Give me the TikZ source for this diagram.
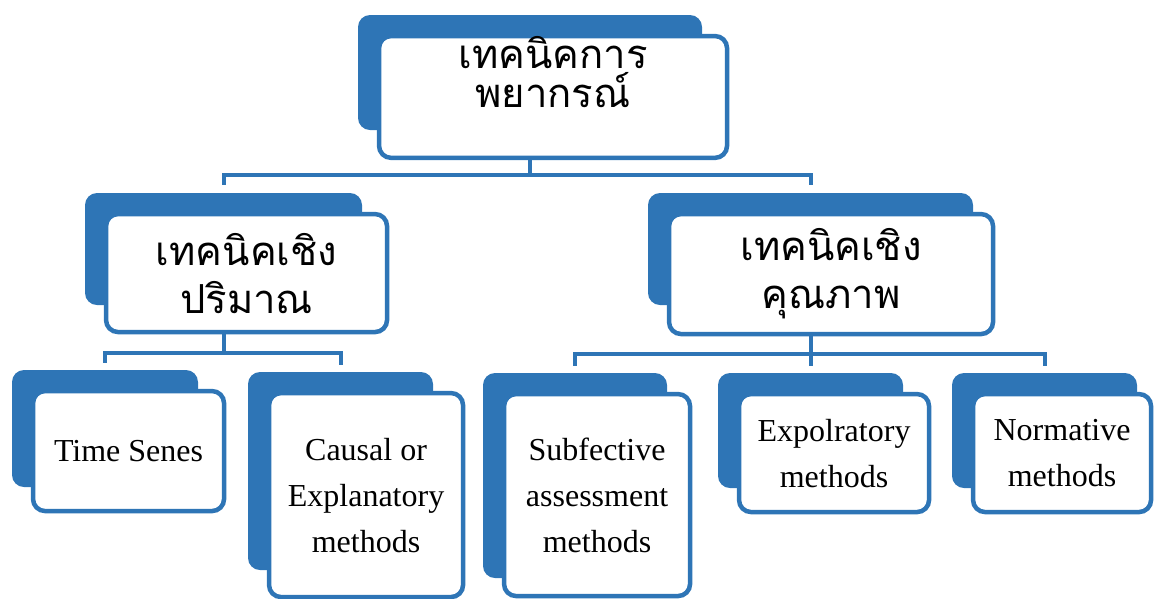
\documentclass[tikz,border=0pt]{standalone}
\usepackage{fontspec}
\setmainfont{Liberation Serif}
\newfontfamily\thaifont[Script=Thai]{Loma}
\usetikzlibrary{positioning}
\definecolor{smblue}{RGB}{46,117,182}
\tikzset{
  back/.style={fill=smblue, rounded corners=12pt, inner sep=0pt},
  card/.style={draw=smblue, line width=4.5pt, fill=white, rounded corners=12pt,
    align=center, inner sep=0pt},
  size/.style 2 args={minimum width=#1, minimum height=#2},
  thai/.style={font=\thaifont\fontsize{40}{48}\selectfont},
  eng/.style={font=\fontsize{32}{46}\selectfont},
  link/.style={draw=smblue, line width=4pt},
}

\begin{document}
\begin{tikzpicture}[x=1pt, y=-1pt]
        \useasboundingbox (0,0) rectangle (1156,598);

        \node[back, size={344pt}{115pt}] (root-bk) at (530,72.5) {};
        \node[card, size={348pt}{120pt}, thai, font=\thaifont\fontsize{40}{39}\selectfont,
          below right=19pt and 19pt of root-bk.north west] (root) {เทคนิคการ\\พยากรณ์\\\strut};

        \node[back, size={277pt}{112pt}] (quant-bk) at (223.5,249) {};
        \node[card, size={281pt}{118pt}, thai,
          below right=19pt and 19pt of quant-bk.north west] (quant) {เทคนิคเชิง\\ปริมาณ};
        \node[back, size={325pt}{112pt}] (qual-bk) at (810.5,249) {};
        \node[card, size={324pt}{120pt}, thai,
          below right=19pt and 19pt of qual-bk.north west] (qual) {เทคนิคเชิง\\คุณภาพ};

        \node[back, size={186pt}{117pt}] (ts-bk) at (105,428.5) {};
        \node[card, size={191pt}{120pt}, eng,
          below right=19pt and 19pt of ts-bk.north west] (ts) {Time Senes};
        \node[back, size={185pt}{198pt}] (causal-bk) at (340.5,471) {};
        \node[card, size={194pt}{204pt}, eng,
          below right=19pt and 19pt of causal-bk.north west] (causal) {Causal or\\Explanatory\\methods};

        \node[back, size={184pt}{205pt}] (subj-bk) at (575,475.5) {};
        \node[card, size={186pt}{202pt}, eng,
          below right=19pt and 19pt of subj-bk.north west] (subj) {Subfective\\assessment\\methods};
        \node[back, size={185pt}{115pt}] (expl-bk) at (810.5,430.5) {};
        \node[card, size={190pt}{118pt}, eng,
          below right=19pt and 19pt of expl-bk.north west] (expl) {Expolratory\\methods};
        \node[back, size={185pt}{115pt}] (norm-bk) at (1044.5,430.5) {};
        \node[card, size={178pt}{118pt}, eng,
          below right=19pt and 19pt of norm-bk.north west] (norm) {Normative\\methods};

        \draw[link] (root-bk |- root.south) -- ++(0,15) -| ([yshift=8pt]quant-bk.north);
        \draw[link] (root-bk |- root.south) -- ++(0,15) -| ([yshift=8pt]qual-bk.north);

        \draw[link] (quant-bk |- quant.south) -- ++(0,19) -| ([yshift=7pt]ts-bk.north);
        \draw[link] (quant-bk |- quant.south) -- ++(0,19) -| ([yshift=7pt]causal-bk.north);

        \draw[link] (qual-bk |- qual.south) -- ++(0,18) -| ([yshift=7pt]subj-bk.north);
        \draw[link] (qual-bk |- qual.south) -- ++(0,18) -| ([yshift=7pt]expl-bk.north);
        \draw[link] (qual-bk |- qual.south) -- ++(0,18) -| ([yshift=7pt]norm-bk.north);
\end{tikzpicture}
\end{document}
